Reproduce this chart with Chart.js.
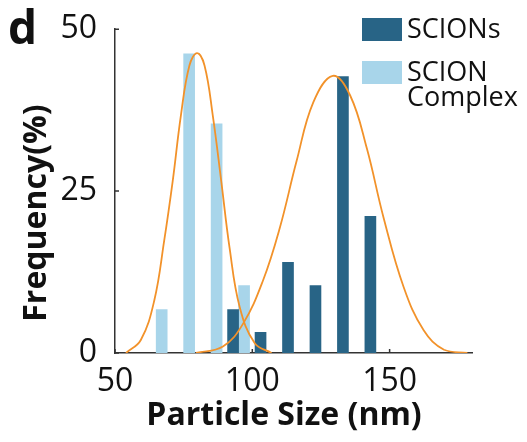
<!DOCTYPE html>
<html lang="en">
<head>
    <meta charset="UTF-8">
    <title>Particle Size Distribution</title>
    <script src="https://cdn.jsdelivr.net/npm/chart.js"></script>
    <style>
        html, body { margin: 0; padding: 0; background: #fff; }
        .wrap { width: 527px; height: 442px; position: relative; }
    </style>
</head>
<body>
    <div class="wrap"><canvas id="sizeChart" width="527" height="442"></canvas></div>

    <script>
        // histogram bins (nm) and frequencies (%)
        const complexSizes = [67, 77, 87, 97];
        const complexFreq = [6.7, 46.2, 35.4, 10.4];
        const scionSizes = [93, 103, 113, 123, 133, 143];
        const scionFreq = [6.7, 3.2, 14.0, 10.4, 42.7, 21.1];

        // fitted distribution curves, read as points
        const complexFitX = [54, 59.4, 64.3, 67.9, 71, 74, 77.1, 79.9, 82.6, 85.6, 88.7, 91.7, 95.4, 100.9, 107];
        const complexFitY = [0, 2.0, 8.1, 17.3, 26.5, 36.7, 44.4, 46.3, 44.4, 36.7, 26.5, 16.3, 7.1, 1.5, 0];
        const scionFitX = [79.5, 89.3, 96.6, 103.9, 110, 116.1, 122.2, 129.3, 135.6, 141.7, 147.8, 155.1, 162.4, 169.8, 178.3];
        const scionFitY = [0, 1.0, 4.5, 11.2, 19.3, 29.6, 38.7, 42.8, 39.8, 31.6, 20.9, 10.2, 3.5, 0.5, 0];

        const xTicks = [50, 100, 150];
        const yTicks = [0, 25, 50];
        const legendNames = [['SCIONs'], ['SCION', 'Complex']];

        const DARK = '#286486';
        const LIGHT = '#a8d5ea';
        const ORANGE = '#f2922a';
        const AXIS = '#333333';
        const FONT = "'Open Sans', sans-serif";

        const pts = (xs, ys) => xs.map((x, i) => ({ x: x, y: ys[i] }));

        // titles, panel letter, inward tick marks and the legend
        const decorations = {
            id: 'decorations',
            afterDraw(chart) {
                const ctx = chart.ctx;
                const xs = chart.scales.x, ys = chart.scales.y;
                const area = chart.chartArea;
                ctx.save();

                ctx.strokeStyle = AXIS;
                ctx.lineWidth = 1.5;
                ctx.beginPath();
                yTicks.forEach(v => {
                    const py = ys.getPixelForValue(v);
                    ctx.moveTo(area.left, py);
                    ctx.lineTo(area.left + 4, py);
                });
                xTicks.forEach(v => {
                    const px = xs.getPixelForValue(v);
                    ctx.moveTo(px, area.bottom);
                    ctx.lineTo(px, area.bottom - 4);
                });
                ctx.stroke();

                ctx.fillStyle = '#111';
                ctx.font = 'bold 46px ' + FONT;
                ctx.textAlign = 'left';
                ctx.textBaseline = 'alphabetic';
                ctx.fillText('d', 8, 44);

                ctx.font = 'bold 32px ' + FONT;
                ctx.textAlign = 'center';
                ctx.textBaseline = 'middle';
                ctx.fillText('Particle Size (nm)', 284, 416);

                ctx.save();
                ctx.translate(37, 213);
                ctx.rotate(-Math.PI / 2);
                ctx.fillText('Frequency(%)', 0, 0);
                ctx.restore();

                // legend
                const colors = [DARK, LIGHT];
                const boxTop = [18, 61];
                ctx.font = '27px ' + FONT;
                ctx.textAlign = 'left';
                ctx.textBaseline = 'middle';
                legendNames.forEach((lines, i) => {
                    ctx.fillStyle = colors[i];
                    ctx.fillRect(362, boxTop[i], 40, 23);
                    ctx.fillStyle = '#111';
                    lines.forEach((t, j) => ctx.fillText(t, 407, boxTop[i] + 12 + j * 25));
                });

                ctx.restore();
            }
        };

        new Chart(document.getElementById('sizeChart'), {
            data: {
                datasets: [
                    { type: 'line', label: 'SCION Complex fit', data: pts(complexFitX, complexFitY),
                      borderColor: ORANGE, borderWidth: 1.8, pointRadius: 0, tension: 0.4, order: 0 },
                    { type: 'line', label: 'SCIONs fit', data: pts(scionFitX, scionFitY),
                      borderColor: ORANGE, borderWidth: 1.8, pointRadius: 0, tension: 0.4, order: 0 },
                    { type: 'bar', label: 'SCIONs', data: pts(scionSizes, scionFreq),
                      backgroundColor: DARK, barThickness: 11, grouped: false, order: 1 },
                    { type: 'bar', label: 'SCION Complex', data: pts(complexSizes, complexFreq),
                      backgroundColor: LIGHT, barThickness: 11, grouped: false, order: 2 }
                ]
            },
            options: {
                responsive: false,
                animation: false,
                layout: { padding: { left: 0, top: 26, right: 55, bottom: 0 } },
                plugins: { legend: { display: false }, tooltip: { enabled: false } },
                scales: {
                    x: {
                        type: 'linear', min: 50, max: 180, offset: false,
                        grid: { display: false },
                        border: { display: true, color: AXIS, width: 1.5 },
                        afterBuildTicks: s => { s.ticks = xTicks.map(v => ({ value: v })); },
                        afterFit: s => { s.height = 89; },
                        ticks: { font: { family: FONT, size: 32 }, color: '#111', padding: 2, maxRotation: 0 }
                    },
                    y: {
                        min: 0, max: 50,
                        grid: { display: false },
                        border: { display: true, color: AXIS, width: 1.5 },
                        afterBuildTicks: s => { s.ticks = yTicks.map(v => ({ value: v })); },
                        afterFit: s => { s.width = 115; },
                        ticks: { font: { family: FONT, size: 32 }, color: '#111', padding: 10 }
                    }
                }
            },
            plugins: [decorations]
        });
    </script>
</body>
</html>
